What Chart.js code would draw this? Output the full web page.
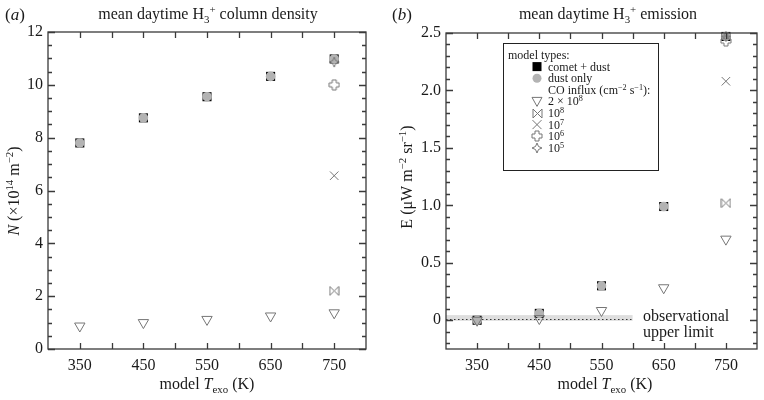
<!DOCTYPE html>
<html>
<head>
<meta charset="utf-8">
<script src="https://cdn.jsdelivr.net/npm/chart.js@4/dist/chart.umd.min.js"></script>
<style>
  body { margin: 0; background: #fff; }
  #wrap { position: relative; width: 764px; height: 400px; }
  canvas { position: absolute; top: 0; }
</style>
</head>
<body>
<div id="wrap">
  <canvas id="chartA" width="382" height="400" style="left:0"></canvas>
  <canvas id="chartB" width="382" height="400" style="left:382px"></canvas>
</div>
<script>
// data
const temps = [350, 450, 550, 650, 750];
const xLabelTicks = [350, 450, 550, 650, 750];

// (a) column density, x10^14 m^-2
const colCometDust = [7.8, 8.75, 9.55, 10.32, 10.98];
const colDustOnly  = [7.8, 8.75, 9.55, 10.32, 10.98];
const colCO2e8 = [0.87, 1.0, 1.12, 1.25, 1.37];
const colCO1e8 = [null, null, null, null, 2.2];
const colCO1e7 = [null, null, null, null, 6.56];
const colCO1e6 = [null, null, null, null, 10.0];
const colCO1e5 = [null, null, null, null, 10.86];
const colTicks = [0, 2, 4, 6, 8, 10, 12];

// (b) emission, uW m^-2 sr^-1
const emCometDust = [0.0, 0.06, 0.30, 0.99, 2.47];
const emDustOnly  = [0.0, 0.06, 0.30, 0.99, 2.47];
const emCO2e8 = [0.0, 0.015, 0.085, 0.283, 0.706];
const emCO1e8 = [null, null, null, null, 1.02];
const emCO1e7 = [null, null, null, null, 2.08];
const emCO1e6 = [null, null, null, null, 2.43];
const emCO1e5 = [null, null, null, null, 2.47];
const emTicks = [0, 0.5, 1.0, 1.5, 2.0, 2.5];

// observational upper limit
const obsLimit = 0.015;
const obsBand = [-0.005, 0.045];
const obsXRange = [300, 600];

const FONT = '"Liberation Serif", "DejaVu Serif", serif';
const GRAY = '#767676';

function markerCanvas(kind, size) {
  const c = document.createElement('canvas');
  c.width = size; c.height = size;
  const g = c.getContext('2d');
  const m = size / 2, r = size / 2 - 1;
  g.strokeStyle = GRAY;
  g.lineWidth = 1;
  g.beginPath();
  if (kind === 'bowtie') {
    g.moveTo(m - r, m - r); g.lineTo(m + r, m + r); g.lineTo(m + r, m - r); g.lineTo(m - r, m + r);
    g.closePath();
  } else if (kind === 'plus') {
    const a = r * 0.4;
    g.moveTo(m - a, m - r); g.lineTo(m + a, m - r); g.lineTo(m + a, m - a); g.lineTo(m + r, m - a);
    g.lineTo(m + r, m + a); g.lineTo(m + a, m + a); g.lineTo(m + a, m + r); g.lineTo(m - a, m + r);
    g.lineTo(m - a, m + a); g.lineTo(m - r, m + a); g.lineTo(m - r, m - a); g.lineTo(m - a, m - a);
    g.closePath();
  } else if (kind === 'star') {
    const a = r * 0.3;
    g.moveTo(m, m - r); g.lineTo(m + a, m - a); g.lineTo(m + r, m); g.lineTo(m + a, m + a);
    g.lineTo(m, m + r); g.lineTo(m - a, m + a); g.lineTo(m - r, m); g.lineTo(m - a, m - a);
    g.closePath();
  }
  g.stroke();
  return c;
}
const bowtieImg = markerCanvas('bowtie', 11);
const plusImg = markerCanvas('plus', 12);
const starImg = markerCanvas('star', 12);

function pts(arr) {
  return temps.map((t, i) => arr[i] == null ? null : { x: t, y: arr[i] }).filter(p => p);
}

function makeSets(comet, dust, co2e8, co1e8, co1e7, co1e6, co1e5) {
  return [
    { label: 'comet + dust', data: pts(comet), pointStyle: 'rect', pointRadius: 6.4,
      backgroundColor: '#000', borderColor: '#000', borderWidth: 0, order: 10, clip: false },
    { label: 'dust only', data: pts(dust), pointStyle: 'circle', pointRadius: 4.8,
      backgroundColor: '#b3b3b3', borderColor: '#b3b3b3', borderWidth: 0, order: 9, clip: false },
    { label: '2e8', data: pts(co2e8), pointStyle: 'triangle', pointRotation: 180, pointRadius: 6,
      backgroundColor: 'rgba(255,255,255,0)', borderColor: GRAY, borderWidth: 1, order: 5, clip: false },
    { label: '1e8', data: pts(co1e8), pointStyle: bowtieImg, order: 4, clip: false },
    { label: '1e7', data: pts(co1e7), pointStyle: 'crossRot', pointRadius: 6,
      borderColor: GRAY, borderWidth: 1, order: 3, clip: false },
    { label: '1e6', data: pts(co1e6), pointStyle: plusImg, order: 2, clip: false },
    { label: '1e5', data: pts(co1e5), pointStyle: starImg, order: 1, clip: false }
  ];
}

// text with italics / sub / superscripts
function rich(ctx, segs, x, y, size, align, supShift) {
  const up = supShift || 0.4;
  const parts = segs.map(s => {
    const small = s.sup || s.sub;
    const fs = small ? size * 0.68 : size;
    const font = (s.it ? 'italic ' : '') + fs + 'px ' + FONT;
    ctx.font = font;
    return { t: s.t, font, w: ctx.measureText(s.t).width,
      dy: s.sup ? -size * up : (s.sub ? size * 0.25 : 0) };
  });
  const total = parts.reduce((a, p) => a + p.w, 0);
  let cx = align === 'center' ? x - total / 2 : (align === 'right' ? x - total : x);
  ctx.textAlign = 'left';
  ctx.textBaseline = 'alphabetic';
  parts.forEach(p => { ctx.font = p.font; ctx.fillText(p.t, cx, y + p.dy); cx += p.w; });
}

function decor(cfg) {
  return {
    id: 'decor',
    beforeDatasetsDraw(chart) {
      if (cfg.before) cfg.before(chart);
    },
    afterDraw(chart) {
      const ctx = chart.ctx, a = chart.chartArea;
      const xs = chart.scales.x, ys = chart.scales.y;
      ctx.save();
      ctx.strokeStyle = '#3a3a3a';
      ctx.lineWidth = 1.3;
      ctx.strokeRect(a.left, a.top, a.right - a.left, a.bottom - a.top);
      ctx.beginPath();
      for (let v = 350; v <= 750; v += 50) {
        const px = Math.round(xs.getPixelForValue(v)) + 0.5;
        ctx.moveTo(px, a.bottom); ctx.lineTo(px, a.bottom - 6);
        ctx.moveTo(px, a.top); ctx.lineTo(px, a.top + 6);
      }
      const n0 = Math.ceil(ys.min / cfg.minor - 1e-9), n1 = Math.floor(ys.max / cfg.minor + 1e-9);
      for (let k = n0; k <= n1; k++) {
        const v = k * cfg.minor;
        const major = Math.abs(v / cfg.major - Math.round(v / cfg.major)) < 1e-6;
        const len = major ? 7 : 4;
        const py = Math.round(ys.getPixelForValue(v)) + 0.5;
        ctx.moveTo(a.left, py); ctx.lineTo(a.left + len, py);
        ctx.moveTo(a.right, py); ctx.lineTo(a.right - len, py);
      }
      ctx.stroke();
      ctx.fillStyle = '#1a1a1a';
      cfg.texts(ctx, chart);
      ctx.restore();
    }
  };
}

function options(yMin, yMax, yTicks, yFmt, yWidth, padTop, padRight) {
  return {
    responsive: false,
    animation: false,
    events: [],
    layout: { padding: { top: padTop, right: padRight, left: 0, bottom: 0 } },
    plugins: { legend: { display: false }, tooltip: { enabled: false } },
    scales: {
      x: {
        type: 'linear', min: 300, max: 800,
        grid: { display: false, drawTicks: false }, border: { display: false },
        afterBuildTicks: s => { s.ticks = xLabelTicks.map(v => ({ value: v })); },
        afterFit: s => { s.height = 51; },
        ticks: { font: { family: FONT, size: 16 }, color: '#1a1a1a', padding: 7, maxRotation: 0 }
      },
      y: {
        type: 'linear', min: yMin, max: yMax,
        grid: { display: false, drawTicks: false }, border: { display: false },
        afterBuildTicks: s => { s.ticks = yTicks.map(v => ({ value: v })); },
        afterFit: s => { s.width = yWidth; },
        ticks: { font: { family: FONT, size: 16 }, color: '#1a1a1a', padding: 5, callback: yFmt }
      }
    }
  };
}

const xTitle = [{ t: 'model ' }, { t: 'T', it: true }, { t: 'exo', sub: true }, { t: ' (K)' }];

new Chart(document.getElementById('chartA'), {
  type: 'scatter',
  data: { datasets: makeSets(colCometDust, colDustOnly, colCO2e8, colCO1e8, colCO1e7, colCO1e6, colCO1e5) },
  options: options(0, 12, colTicks, v => String(v), 48, 32, 16),
  plugins: [decor({
    minor: 0.5, major: 2,
    texts(ctx) {
      rich(ctx, [{ t: '(' }, { t: 'a', it: true }, { t: ')' }], 5, 20, 17, 'left');
      rich(ctx, [{ t: 'mean daytime H' }, { t: '3', sub: true }, { t: '+', sup: true }, { t: ' column density' }], 208, 19, 16, 'center');
      rich(ctx, xTitle, 207, 389, 16, 'center');
      ctx.save();
      ctx.translate(19, 191);
      ctx.rotate(-Math.PI / 2);
      rich(ctx, [{ t: 'N', it: true }, { t: ' (\u00d710' }, { t: '14', sup: true }, { t: ' m' }, { t: '\u22122', sup: true }, { t: ')' }], 0, 0, 16, 'center');
      ctx.restore();
    }
  })]
});

const legendRows = [
  { x: 126, text: [{ t: 'model types:' }] },
  { x: 166, mark: 0, text: [{ t: 'comet + dust' }] },
  { x: 166, mark: 1, text: [{ t: 'dust only' }] },
  { x: 166, text: [{ t: 'CO influx (cm' }, { t: '\u22122', sup: true }, { t: ' s' }, { t: '\u22121', sup: true }, { t: '):' }] },
  { x: 166, mark: 2, text: [{ t: '2 \u00d7 10' }, { t: '8', sup: true }] },
  { x: 166, mark: 3, text: [{ t: '10' }, { t: '8', sup: true }] },
  { x: 166, mark: 4, text: [{ t: '10' }, { t: '7', sup: true }] },
  { x: 166, mark: 5, text: [{ t: '10' }, { t: '6', sup: true }] },
  { x: 166, mark: 6, text: [{ t: '10' }, { t: '5', sup: true }] }
];

function drawLegendMark(ctx, ds, x, y) {
  const st = ds.pointStyle;
  ctx.save();
  if (st instanceof HTMLCanvasElement) {
    ctx.drawImage(st, Math.round(x - st.width / 2), Math.round(y - st.height / 2));
  } else if (st === 'rect') {
    ctx.fillStyle = ds.backgroundColor;
    ctx.fillRect(x - 4.5, y - 4.5, 9, 9);
  } else if (st === 'circle') {
    ctx.fillStyle = ds.backgroundColor;
    ctx.beginPath(); ctx.arc(x, y, 4.5, 0, Math.PI * 2); ctx.fill();
  } else if (st === 'triangle') {
    ctx.strokeStyle = ds.borderColor; ctx.lineWidth = 1;
    ctx.beginPath(); ctx.moveTo(x - 5, y - 4); ctx.lineTo(x + 5, y - 4); ctx.lineTo(x, y + 5); ctx.closePath(); ctx.stroke();
  } else if (st === 'crossRot') {
    ctx.strokeStyle = ds.borderColor; ctx.lineWidth = 1;
    ctx.beginPath(); ctx.moveTo(x - 4.5, y - 4.5); ctx.lineTo(x + 4.5, y + 4.5);
    ctx.moveTo(x + 4.5, y - 4.5); ctx.lineTo(x - 4.5, y + 4.5); ctx.stroke();
  }
  ctx.restore();
}

new Chart(document.getElementById('chartB'), {
  type: 'scatter',
  data: { datasets: makeSets(emCometDust, emDustOnly, emCO2e8, emCO1e8, emCO1e7, emCO1e6, emCO1e5) },
  options: options(-0.25, 2.5, emTicks, v => v === 0 ? '0' : v.toFixed(1), 64, 33, 1),
  plugins: [decor({
    minor: 0.1, major: 0.5,
    before(chart) {
      const ctx = chart.ctx, xs = chart.scales.x, ys = chart.scales.y;
      const x0 = xs.getPixelForValue(obsXRange[0]), x1 = xs.getPixelForValue(obsXRange[1]);
      ctx.save();
      ctx.fillStyle = 'rgba(200,200,200,0.6)';
      const yTop = ys.getPixelForValue(obsBand[1]), yBot = ys.getPixelForValue(obsBand[0]);
      ctx.fillRect(x0, yTop, x1 - x0, yBot - yTop);
      ctx.strokeStyle = '#333';
      ctx.lineWidth = 1.2;
      ctx.setLineDash([1.5, 2.5]);
      const yl = Math.round(ys.getPixelForValue(obsLimit)) + 0.5;
      ctx.beginPath(); ctx.moveTo(x0, yl); ctx.lineTo(x1, yl); ctx.stroke();
      ctx.restore();
    },
    texts(ctx, chart) {
      rich(ctx, [{ t: '(' }, { t: 'b', it: true }, { t: ')' }], 10, 20, 17, 'left');
      rich(ctx, [{ t: 'mean daytime H' }, { t: '3', sub: true }, { t: '+', sup: true }, { t: ' emission' }], 226, 19, 16, 'center');
      rich(ctx, xTitle, 223, 389, 16, 'center');
      rich(ctx, [{ t: 'observational' }], 261, 321, 16, 'left');
      rich(ctx, [{ t: 'upper limit' }], 261, 337, 16, 'left');
      ctx.save();
      ctx.translate(30, 177);
      ctx.rotate(-Math.PI / 2);
      rich(ctx, [{ t: 'E (\u03bcW m' }, { t: '\u22122', sup: true }, { t: ' sr' }, { t: '\u22121', sup: true }, { t: ')' }], 0, 0, 16, 'center');
      ctx.restore();
      // legend box
      ctx.save();
      ctx.fillStyle = '#fff';
      ctx.fillRect(121, 43, 155, 127);
      ctx.strokeStyle = '#222';
      ctx.lineWidth = 1;
      ctx.strokeRect(121.5, 43.5, 155, 127);
      ctx.fillStyle = '#1a1a1a';
      const ds = chart.data.datasets;
      legendRows.forEach((row, i) => {
        const y = 55 + i * 11.6;
        if (row.mark != null) drawLegendMark(ctx, ds[row.mark], 155, y);
        rich(ctx, row.text, row.x, y + 4, 12, 'left', 0.33);
      });
      ctx.restore();
    }
  })]
});
</script>
</body>
</html>
